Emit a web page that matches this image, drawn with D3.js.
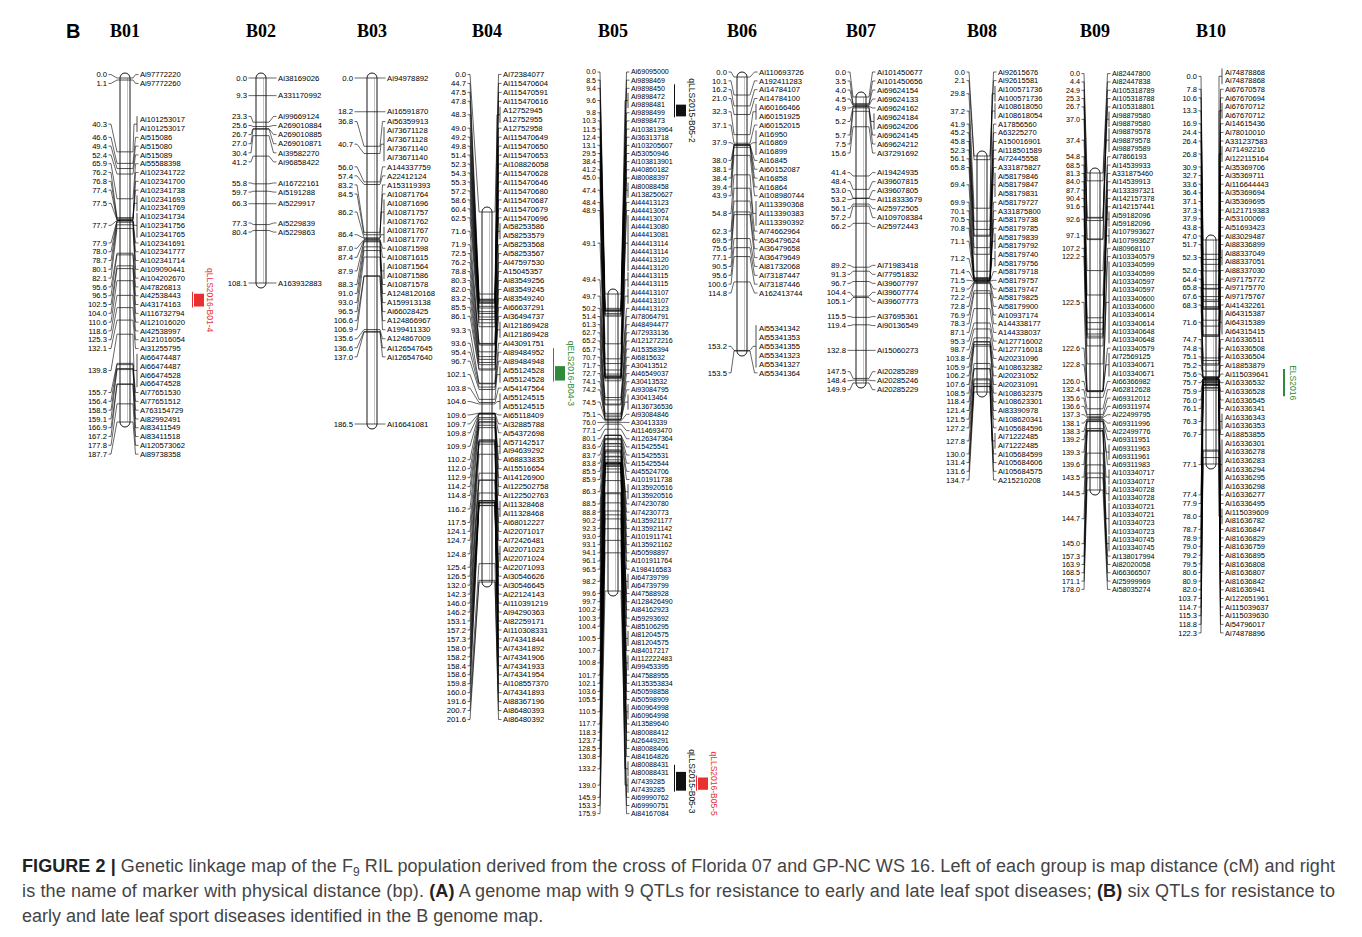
<!DOCTYPE html>
<html>
<head>
<meta charset="utf-8">
<script src="https://cdn.jsdelivr.net/npm/d3@7"></script>
<style>
  body { margin: 0; background: #fff; }
  svg text { font-family: "Liberation Sans", Arial, sans-serif; }
</style>
</head>
<body>
<svg id="chart" width="1362" height="937"></svg>
<script>
// ---- linkage groups: [cM, marker] ----
const groupNames = ["B01", "B02", "B03", "B04", "B05", "B06", "B07", "B08", "B09", "B10"];

const B01 = [[0.0,"Ai97772220"],[1.1,"Ai97772260"],[40.3,"Ai101253017"],[40.3,"Ai101253017"],[46.6,"Ai515086"],[49.4,"Ai515080"],[52.4,"Ai515089"],[65.9,"Ai55588398"],[76.2,"Ai102341722"],[76.8,"Ai102341700"],[77.4,"Ai102341738"],[77.5,"Ai102341693"],[77.5,"Ai102341769"],[77.7,"Ai102341734"],[77.7,"Ai102341756"],[77.7,"Ai102341765"],[77.9,"Ai102341691"],[78.0,"Ai102341777"],[78.7,"Ai102341714"],[80.1,"Ai109090441"],[82.1,"Ai104202670"],[95.6,"Ai47826813"],[96.5,"Ai42538443"],[102.5,"Ai43174163"],[104.0,"Ai116732794"],[110.6,"Ai121016020"],[118.6,"Ai42538997"],[125.3,"Ai121016054"],[132.1,"Ai31255795"],[139.8,"Ai66474487"],[139.8,"Ai66474487"],[139.8,"Ai66474528"],[139.8,"Ai66474528"],[155.7,"Ai77651530"],[156.4,"Ai77651512"],[158.5,"A763154729"],[159.1,"Ai82992491"],[166.9,"Ai83411549"],[167.2,"Ai83411518"],[177.8,"Ai120573062"],[187.7,"Ai89738358"]];

const B02 = [[0.0,"Ai38169026"],[9.3,"A331170992"],[23.3,"Ai99669124"],[25.6,"A269010884"],[26.7,"A269010885"],[27.0,"A269010871"],[30.4,"Ai39582270"],[41.2,"Ai96858422"],[55.8,"Ai16722161"],[59.7,"Ai5191288"],[66.3,"Ai5229917"],[77.3,"Ai5229839"],[80.4,"Ai5229863"],[108.1,"A163932883"]];

const B03 = [[0.0,"Ai94978892"],[18.2,"Ai16591870"],[36.8,"Ai56359913"],[40.7,"Ai73671128"],[40.7,"Ai73671128"],[40.7,"Ai73671140"],[40.7,"Ai73671140"],[56.0,"A144337759"],[57.4,"A22412124"],[83.2,"A153119393"],[84.5,"Ai10871764"],[86.2,"Ai10871696"],[86.2,"Ai10871757"],[86.2,"Ai10871762"],[86.4,"Ai10871767"],[86.4,"Ai10871770"],[87.0,"Ai10871598"],[87.4,"Ai10871615"],[87.9,"Ai10871564"],[87.9,"Ai10871586"],[88.3,"Ai10871578"],[91.0,"A1248120168"],[93.0,"A159913138"],[96.5,"Ai66028425"],[106.6,"A124866967"],[106.9,"A199411330"],[135.6,"A124867009"],[136.6,"Ai126547645"],[137.0,"Ai126547640"],[186.5,"Ai16641081"]];

const B04 = [[0.0,"Ai72384077"],[44.7,"Ai115470604"],[47.5,"Ai115470591"],[47.8,"Ai115470616"],[48.3,"A12752945"],[48.3,"A12752955"],[49.0,"A12752958"],[49.2,"Ai115470649"],[49.8,"Ai115470650"],[51.4,"Ai115470653"],[52.3,"Ai108826058"],[54.3,"Ai115470628"],[55.3,"Ai115470646"],[57.2,"Ai115470680"],[58.6,"Ai115470687"],[60.4,"Ai115470679"],[62.5,"Ai115470696"],[71.6,"Ai58253586"],[71.6,"Ai58253579"],[71.9,"Ai58253568"],[72.5,"Ai58253567"],[76.2,"Ai47597530"],[78.8,"A15045357"],[80.3,"Ai83549256"],[82.0,"Ai83549245"],[83.2,"Ai83549240"],[85.5,"Ai66637291"],[86.1,"Ai36494737"],[93.3,"Ai121869428"],[93.3,"Ai121869428"],[93.6,"Ai43091751"],[95.4,"Ai89484952"],[96.7,"Ai89484948"],[102.1,"Ai55124528"],[102.1,"Ai55124528"],[103.8,"Ai54147564"],[104.6,"Ai55124515"],[104.6,"Ai55124515"],[109.6,"Ai65118409"],[109.7,"Ai32885788"],[109.8,"Ai54372698"],[109.9,"Ai57142517"],[109.9,"Ai94639292"],[110.2,"Ai68833835"],[112.0,"Ai15516654"],[112.9,"Ai14126900"],[114.2,"Ai122502758"],[114.8,"Ai122502763"],[116.2,"Ai11328468"],[116.2,"Ai11328468"],[117.5,"Ai68012227"],[124.1,"Ai22071017"],[124.7,"Ai72426481"],[124.8,"Ai22071023"],[124.8,"Ai22071024"],[125.4,"Ai22071093"],[126.5,"Ai30546626"],[132.0,"Ai30546645"],[142.3,"Ai22124143"],[146.0,"Ai110391219"],[146.2,"Ai94290363"],[153.1,"Ai82259171"],[157.2,"Ai110308331"],[157.3,"Ai74341844"],[158.0,"Ai74341892"],[158.2,"Ai74341906"],[158.4,"Ai74341933"],[158.6,"Ai74341954"],[159.8,"Ai108557370"],[160.0,"Ai74341893"],[191.6,"Ai88367196"],[200.7,"Ai86480393"],[201.6,"Ai86480392"]];

const B05 = [[0.0,"Ai69095000"],[8.5,"Ai9898469"],[9.4,"Ai9898450"],[9.6,"Ai9898472"],[9.6,"Ai9898481"],[9.8,"Ai9898499"],[10.3,"Ai9898473"],[11.5,"Ai103813964"],[12.4,"Ai36313718"],[13.1,"Ai103205607"],[29.5,"Ai53050946"],[38.4,"Ai103813901"],[41.2,"Ai40860182"],[45.0,"Ai80088397"],[47.4,"Ai80088458"],[47.4,"Ai138250627"],[48.4,"Ai44413123"],[48.9,"Ai44413067"],[49.1,"Ai44413074"],[49.1,"Ai44413080"],[49.1,"Ai44413081"],[49.1,"Ai44413114"],[49.1,"Ai44413114"],[49.1,"Ai44413120"],[49.1,"Ai44413120"],[49.4,"Ai44413115"],[49.4,"Ai44413115"],[49.7,"Ai44413107"],[49.7,"Ai44413107"],[50.2,"Ai44413123"],[51.4,"Ai78064791"],[61.3,"Ai48494477"],[62.7,"Ai72933136"],[65.2,"Ai121272216"],[65.7,"Ai15358394"],[70.7,"Ai6815632"],[71.7,"A30413512"],[72.7,"Ai46549037"],[74.1,"A30413532"],[74.2,"Ai93084795"],[74.5,"A30413464"],[74.5,"Ai136736536"],[75.1,"Ai93084846"],[76.0,"A30413339"],[77.1,"Ai114693470"],[80.1,"Ai126347364"],[83.6,"Ai15425541"],[83.7,"Ai15425531"],[83.8,"Ai15425544"],[85.5,"Ai45524706"],[85.9,"Ai101911738"],[86.3,"Ai135920516"],[86.3,"Ai135920516"],[88.5,"Ai74230780"],[88.8,"Ai74230773"],[90.2,"Ai135921177"],[92.3,"Ai135921142"],[93.0,"Ai101911741"],[93.1,"Ai135921162"],[94.1,"Ai50598897"],[96.1,"Ai101911764"],[96.5,"A198416583"],[98.2,"Ai64739799"],[98.2,"Ai64739799"],[99.6,"Ai47588928"],[99.7,"Ai128426490"],[100.2,"Ai84162923"],[100.3,"Ai59293692"],[100.4,"Ai85106295"],[100.5,"Ai81204575"],[100.5,"Ai81204575"],[100.7,"Ai84017217"],[100.8,"Ai112222483"],[100.8,"Ai99453395"],[101.7,"Ai47588955"],[102.1,"Ai135353834"],[103.6,"Ai50598858"],[105.5,"Ai50598909"],[110.5,"Ai60964998"],[110.5,"Ai60964998"],[117.7,"Ai13589640"],[118.3,"Ai80088412"],[123.7,"Ai26449291"],[128.5,"Ai80088406"],[130.8,"Ai84164826"],[133.2,"Ai80088431"],[133.2,"Ai80088431"],[139.0,"Ai7439285"],[139.0,"Ai7439285"],[145.9,"Ai69990762"],[153.3,"Ai69990751"],[175.9,"Ai84167084"]];

const B06 = [[0.0,"Ai110693726"],[10.1,"A192411283"],[16.2,"Ai14784107"],[21.0,"Ai14784100"],[32.3,"Ai60166466"],[32.3,"Ai60151925"],[37.1,"Ai60152015"],[37.9,"Ai16950"],[37.9,"Ai16869"],[37.9,"Ai16899"],[38.0,"Ai16845"],[38.1,"Ai60152087"],[38.4,"Ai16858"],[39.4,"Ai16864"],[43.9,"Ai108980744"],[54.8,"Ai113390368"],[54.8,"Ai113390383"],[54.8,"Ai113390392"],[62.3,"Ai74662964"],[69.5,"Ai36479624"],[75.6,"Ai36479658"],[77.1,"Ai36479649"],[90.5,"Ai81732068"],[95.6,"Ai73187447"],[100.6,"Ai73187446"],[114.8,"A162413744"],[153.2,"Ai55341342"],[153.2,"Ai55341353"],[153.2,"Ai55341355"],[153.2,"Ai55341323"],[153.2,"Ai55341327"],[153.5,"Ai55341364"]];

const B07 = [[0.0,"Ai101450677"],[3.5,"Ai101450656"],[4.0,"Ai69624154"],[4.5,"Ai69624133"],[4.9,"Ai69624162"],[5.2,"Ai69624184"],[5.2,"Ai69624206"],[5.7,"Ai69624145"],[7.5,"Ai69624212"],[15.6,"Ai37291692"],[41.4,"Ai19424935"],[48.4,"Ai39607815"],[53.0,"Ai39607805"],[53.2,"Ai118333679"],[56.1,"Ai25972505"],[57.2,"Ai109708384"],[66.2,"Ai25972443"],[89.2,"Ai71983418"],[91.3,"Ai77951832"],[96.7,"Ai39607797"],[104.4,"Ai39607774"],[105.1,"Ai39607773"],[115.5,"Ai37695361"],[119.4,"Ai90136549"],[132.8,"Ai15060273"],[147.5,"Ai20285289"],[148.4,"Ai20285246"],[149.9,"Ai20285229"]];

const B08 = [[0.0,"Ai92615676"],[2.1,"Ai92615581"],[29.8,"Ai100571736"],[29.8,"Ai100571736"],[37.2,"Ai108618050"],[37.2,"Ai108618054"],[41.9,"A17856560"],[45.2,"A63225270"],[45.8,"A150016901"],[52.3,"Ai118501589"],[56.1,"Ai72445558"],[65.8,"A331875827"],[69.4,"Ai58179846"],[69.4,"Ai58179847"],[69.4,"Ai58179831"],[69.9,"Ai58179727"],[70.1,"A331875800"],[70.5,"Ai58179738"],[70.8,"Ai58179785"],[71.1,"Ai58179839"],[71.1,"Ai58179792"],[71.2,"Ai58179740"],[71.2,"Ai58179756"],[71.4,"Ai58179718"],[71.5,"Ai58179757"],[71.9,"Ai58179747"],[72.2,"Ai58179825"],[72.8,"Ai58179900"],[76.9,"Ai10937174"],[78.3,"A144338177"],[87.1,"A144338037"],[95.3,"Ai127716002"],[98.7,"Ai127716018"],[103.8,"Ai20231096"],[105.9,"Ai108632382"],[106.2,"Ai20231052"],[107.6,"Ai20231091"],[108.5,"Ai108632375"],[118.4,"Ai108623301"],[121.4,"Ai83390978"],[121.5,"Ai108620341"],[127.2,"Ai105684596"],[127.8,"Ai71222485"],[127.8,"Ai71222485"],[130.0,"Ai105684599"],[131.4,"Ai105684606"],[131.6,"Ai105684575"],[134.7,"A215210208"]];

const B09 = [[0.0,"Ai82447800"],[4.4,"Ai82447838"],[24.9,"Ai105318789"],[25.3,"Ai105318788"],[26.7,"Ai105318801"],[37.0,"Ai98879580"],[37.0,"Ai98879580"],[37.4,"Ai98879578"],[37.4,"Ai98879578"],[37.4,"Ai98879589"],[54.8,"Ai7866193"],[68.5,"Ai14539933"],[81.3,"A331875460"],[84.0,"Ai14539913"],[87.7,"Ai133397321"],[90.4,"Ai142157378"],[91.6,"Ai142157441"],[92.6,"Ai59182096"],[92.6,"Ai59182096"],[97.1,"Ai107993627"],[97.1,"Ai107993627"],[107.2,"Ai80968110"],[122.2,"Ai103340579"],[122.5,"Ai103340599"],[122.5,"Ai103340599"],[122.5,"Ai103340597"],[122.5,"Ai103340597"],[122.5,"Ai103340600"],[122.5,"Ai103340600"],[122.5,"Ai103340614"],[122.5,"Ai103340614"],[122.5,"Ai103340648"],[122.5,"Ai103340648"],[122.6,"Ai103340579"],[122.8,"Ai72569125"],[122.8,"Ai103340671"],[122.8,"Ai103340671"],[126.0,"Ai66366982"],[132.4,"Ai62812628"],[135.6,"Ai69312012"],[136.6,"Ai69311974"],[137.3,"Ai22499795"],[138.1,"Ai69311996"],[138.3,"Ai22499776"],[139.2,"Ai69311951"],[139.3,"Ai69311963"],[139.3,"Ai69311961"],[139.6,"Ai69311983"],[143.5,"Ai103340717"],[143.5,"Ai103340717"],[144.5,"Ai103340728"],[144.5,"Ai103340728"],[144.7,"Ai103340721"],[144.7,"Ai103340721"],[144.7,"Ai103340723"],[144.7,"Ai103340723"],[145.0,"Ai103340745"],[145.0,"Ai103340745"],[157.3,"Ai138017994"],[163.9,"Ai82020058"],[168.5,"Ai66366507"],[171.1,"Ai25999969"],[178.0,"Ai58035274"]];

const B10 = [[0.0,"Ai74878868"],[0.0,"Ai74878868"],[7.8,"Ai67670578"],[10.6,"Ai67670694"],[13.3,"Ai67670712"],[13.3,"Ai67670712"],[16.9,"Ai14615436"],[24.4,"Ai78010010"],[26.4,"A331237583"],[26.8,"Ai71492216"],[26.8,"Ai122115164"],[30.9,"Ai35369706"],[32.7,"Ai35369711"],[33.6,"Ai116644443"],[36.4,"Ai35369694"],[37.1,"Ai35369695"],[37.3,"Ai121719383"],[37.9,"Ai53100069"],[43.8,"Ai51693423"],[47.0,"Ai83029487"],[51.7,"Ai88336899"],[52.3,"Ai88337049"],[52.3,"Ai88337051"],[52.6,"Ai88337030"],[64.4,"Ai97175772"],[65.8,"Ai97175770"],[67.6,"Ai97175767"],[68.3,"Ai41432261"],[71.6,"Ai64315387"],[71.6,"Ai64315389"],[71.6,"Ai64315415"],[74.7,"Ai16336511"],[74.8,"Ai16336508"],[75.1,"Ai16336504"],[75.2,"Ai18853879"],[75.6,"Ai115039641"],[75.7,"Ai16336532"],[75.9,"Ai16336528"],[76.0,"Ai16336545"],[76.1,"Ai16336341"],[76.3,"Ai16336343"],[76.3,"Ai16336353"],[76.7,"Ai18853855"],[77.1,"Ai16336301"],[77.1,"Ai16336278"],[77.1,"Ai16336283"],[77.1,"Ai16336294"],[77.1,"Ai16336295"],[77.1,"Ai16336298"],[77.4,"Ai16336277"],[77.9,"Ai16336495"],[78.0,"Ai115039609"],[78.0,"Ai81636782"],[78.7,"Ai81636847"],[78.9,"Ai81636829"],[79.0,"Ai81636759"],[79.2,"Ai81636895"],[79.5,"Ai81636808"],[80.6,"Ai81636807"],[80.9,"Ai81636842"],[82.0,"Ai81636941"],[103.7,"Ai122651961"],[114.7,"Ai115039637"],[115.3,"Ai115039630"],[118.8,"Ai54796017"],[122.3,"Ai74878896"]];

const groupMarkers = [B01, B02, B03, B04, B05, B06, B07, B08, B09, B10];

// ---- QTLs ----
const qtlLabels = ["qLLS2016-B01-4", "qELS2016-B04-3", "qLLS2015-B05-2", "qLLS2015-B05-3", "qLLS2016-B05-5", "ELS2016"];
const qtlGroups = ["B01", "B04", "B05", "B05", "B05", "B10"];
const qtlInner  = [[96.5, 102.5], [99.5, 102.6], [9.7, 9.9], [135.0, 141.0], [137.0, 140.5], null];
const qtlOuter  = [[96.5, 102.5], [95.4, 102.6], [9.4, 9.9], [133.2, 141.0], [137.0, 140.5], [75.6, 75.9]];
const qtlKinds  = ["LLS2016", "ELS2016", "LLS2015", "LLS2015", "LLS2016", "ELS2016"];
const qtlLane   = [0, 0, 0, 0, 1, 0];

// ---- layout (pixels) ----
const layout = {
  B01: {num: 107, bar: 120, name: 140, y0: 78,  y1: 422, step: 8.8,  qx: 194},
  B02: {num: 247, bar: 256, name: 278, y0: 78,  y1: 283, step: 9.1},
  B03: {num: 353, bar: 367, name: 387, y0: 78,  y1: 424, step: 9.05},
  B04: {num: 466, bar: 482, name: 503, y0: 212, y1: 582, step: 8.96, qx: 555},
  B05: {num: 596, bar: 608, name: 631, y0: 294, y1: 591, step: 8.15, qx: 676},
  B06: {num: 727, bar: 737, name: 759, y0: 77,  y1: 351, step: 8.84},
  B07: {num: 846, bar: 856, name: 877, y0: 97,  y1: 383, step: 9.0},
  B08: {num: 965, bar: 977, name: 998, y0: 156, y1: 392, step: 8.68},
  B09: {num: 1080, bar: 1090, name: 1112, y0: 173, y1: 490, step: 8.32},
  B10: {num: 1197, bar: 1206, name: 1225, y0: 240, y1: 464, step: 8.63, qx: 1283}
};
const labelTop = 72, barW = 10;
const kindColor = d3.scaleOrdinal()
  .domain(["LLS2016", "ELS2016", "LLS2015"])
  .range(["#e8312f", "#2f8a3c", "#111"]);

const svg = d3.select("#chart");

// spread labels from the bottom up: overlapping runs merge and sit centred on their wanted span
function placeLabels(wanted, step, minY) {
  const runs = [];
  const topOf = r => (r.lo + r.hi) / 2 - (r.n - 1) * step / 2;
  for (let i = wanted.length - 1; i >= 0; i--) {
    runs.push({lo: wanted[i], hi: wanted[i], n: 1});
    while (runs.length > 1) {
      const a = runs[runs.length - 1], b = runs[runs.length - 2];
      if (topOf(a) + a.n * step <= topOf(b)) break;
      a.hi = b.hi; a.n += b.n; runs.splice(runs.length - 2, 1);
    }
  }
  runs.reverse();
  const out = [];
  runs.forEach(r => {
    const t = topOf(r);
    for (let k = 0; k < r.n; k++) out.push(t + k * step);
  });
  out.forEach((v, i) => { out[i] = Math.max(v, i ? out[i - 1] + step : minY); });
  return out;
}

const placed = {};

groupNames.forEach((gName, gi) => {
  const L = layout[gName];
  const markers = groupMarkers[gi];
  const fs = Math.min(L.step, 8.9) * 0.87;
  const y = d3.scaleLinear().domain([0, d3.max(markers, d => d[0])]).range([L.y0, L.y1]);
  const ly = placeLabels(markers.map(d => y(d[0])), L.step, labelTop);
  const rows = markers.map((d, i) => ({cm: d[0], name: d[1], ly: ly[i]}));
  const loci = d3.groups(rows, d => d.cm);
  placed[gName] = loci.map(([cm, r]) => ({cm, ly: d3.mean(r, d => d.ly)}));

  const g = svg.append("g");

  // header
  g.append("text")
    .attr("x", L.bar + barW / 2).attr("y", 37)
    .attr("text-anchor", "middle")
    .style("font-family", "'Liberation Serif', 'Times New Roman', serif")
    .style("font-weight", "bold").style("font-size", "18px")
    .text(gName);

  // chromosome bar
  g.append("rect")
    .attr("x", L.bar).attr("y", L.y0 - 5)
    .attr("width", barW).attr("height", L.y1 - L.y0 + 10)
    .attr("rx", 5).attr("ry", 5)
    .attr("fill", "#fff").attr("stroke", "#000").attr("stroke-width", 0.9);
  g.append("line")
    .attr("x1", L.bar + barW - 2.5).attr("x2", L.bar + barW - 2.5)
    .attr("y1", L.y0).attr("y2", L.y1)
    .attr("stroke", "#aaa").attr("stroke-width", 0.7);

  // ticks on the bar
  g.selectAll(".tick").data(loci).enter().append("line")
    .attr("x1", L.bar).attr("x2", L.bar + barW)
    .attr("y1", d => y(d[0])).attr("y2", d => y(d[0]))
    .attr("stroke", "#222").attr("stroke-width", 0.8);

  const line = d3.line();

  loci.forEach(([cm, r]) => {
    const ty = y(cm);
    const cy = d3.mean(r, d => d.ly);
    // left: distance label and connector
    g.append("text")
      .attr("x", L.num).attr("y", cy).attr("dy", "0.35em")
      .attr("text-anchor", "end").style("font-size", fs + "px")
      .text(cm.toFixed(1));
    g.append("path")
      .attr("d", line([[L.num + 1.5, cy], [L.num + 4, cy], [L.bar - 3, ty], [L.bar, ty]]))
      .attr("fill", "none").attr("stroke", "#000").attr("stroke-width", 0.6);

    // right: marker names
    const endX = r.length > 1 ? L.name - 3 : L.name - 1.5;
    g.append("path")
      .attr("d", line([[L.bar + barW, ty], [L.bar + barW + 3, ty], [endX - 3, cy], [endX, cy]]))
      .attr("fill", "none").attr("stroke", "#000").attr("stroke-width", 0.6);
    if (r.length > 1) {
      g.append("line")
        .attr("x1", endX).attr("x2", endX)
        .attr("y1", r[0].ly - 3.5).attr("y2", r[r.length - 1].ly + 3.5)
        .attr("stroke", "#000").attr("stroke-width", 0.7);
    }
    r.forEach(d => {
      g.append("text")
        .attr("x", L.name).attr("y", d.ly).attr("dy", "0.35em")
        .style("font-size", fs + "px")
        .text(d.name);
    });
  });
});

// QTL bars, positioned along the label column
qtlLabels.forEach((label, i) => {
  const L = layout[qtlGroups[i]];
  const pos = placed[qtlGroups[i]];
  const toY = d3.scaleLinear().domain(pos.map(p => p.cm)).range(pos.map(p => p.ly));
  const col = kindColor(qtlKinds[i]);
  const x = L.qx + qtlLane[i] * 22;
  const g = svg.append("g");
  const [o0, o1] = qtlOuter[i];
  let mid;
  if (qtlInner[i]) {
    const [a, b] = qtlInner[i];
    g.append("line")
      .attr("x1", x - 1.5).attr("x2", x - 1.5)
      .attr("y1", toY(o0) - 4).attr("y2", toY(o1) + 3)
      .attr("stroke", col).attr("stroke-width", 1);
    g.append("rect")
      .attr("x", x).attr("y", toY(a) - 2)
      .attr("width", 10).attr("height", toY(b) - toY(a) + 4)
      .attr("fill", col);
    mid = (toY(a) + toY(b)) / 2;
  } else {
    g.append("line")
      .attr("x1", x + 1).attr("x2", x + 1)
      .attr("y1", toY(o0) - 5).attr("y2", toY(o1) + 5)
      .attr("stroke", col).attr("stroke-width", 2);
    mid = (toY(o0) + toY(o1)) / 2;
  }
  const tx = qtlInner[i] ? x + 13 : x + 7;
  g.append("text")
    .attr("transform", `translate(${tx},${mid}) rotate(90)`)
    .attr("text-anchor", "middle")
    .style("font-size", "8.5px").attr("fill", col)
    .text(label);
});

// panel letter
svg.append("text")
  .attr("x", 66).attr("y", 38)
  .style("font-weight", "bold").style("font-size", "20px")
  .text("B");

// caption
const cap = svg.append("g").style("font-size", "18px").attr("fill", "#444");
const l1 = cap.append("text").attr("x", 22).attr("y", 872).attr("textLength", 1313).attr("lengthAdjust", "spacing");
l1.append("tspan").style("font-weight", "bold").attr("fill", "#222").text("FIGURE 2 |");
l1.append("tspan").text(" Genetic linkage map of the F");
l1.append("tspan").attr("dy", 4).style("font-size", "12px").text("9");
l1.append("tspan").attr("dy", -4).text(" RIL population derived from the cross of Florida 07 and GP-NC WS 16. Left of each group is map distance (cM) and right");
const l2 = cap.append("text").attr("x", 22).attr("y", 897).attr("textLength", 1313).attr("lengthAdjust", "spacing");
l2.append("tspan").text("is the name of marker with physical distance (bp). ");
l2.append("tspan").style("font-weight", "bold").attr("fill", "#222").text("(A)");
l2.append("tspan").text(" A genome map with 9 QTLs for resistance to early and late leaf spot diseases; ");
l2.append("tspan").style("font-weight", "bold").attr("fill", "#222").text("(B)");
l2.append("tspan").text(" six QTLs for resistance to");
cap.append("text").attr("x", 22).attr("y", 922)
  .text("early and late leaf sport diseases identified in the B genome map.");
</script>
</body>
</html>
